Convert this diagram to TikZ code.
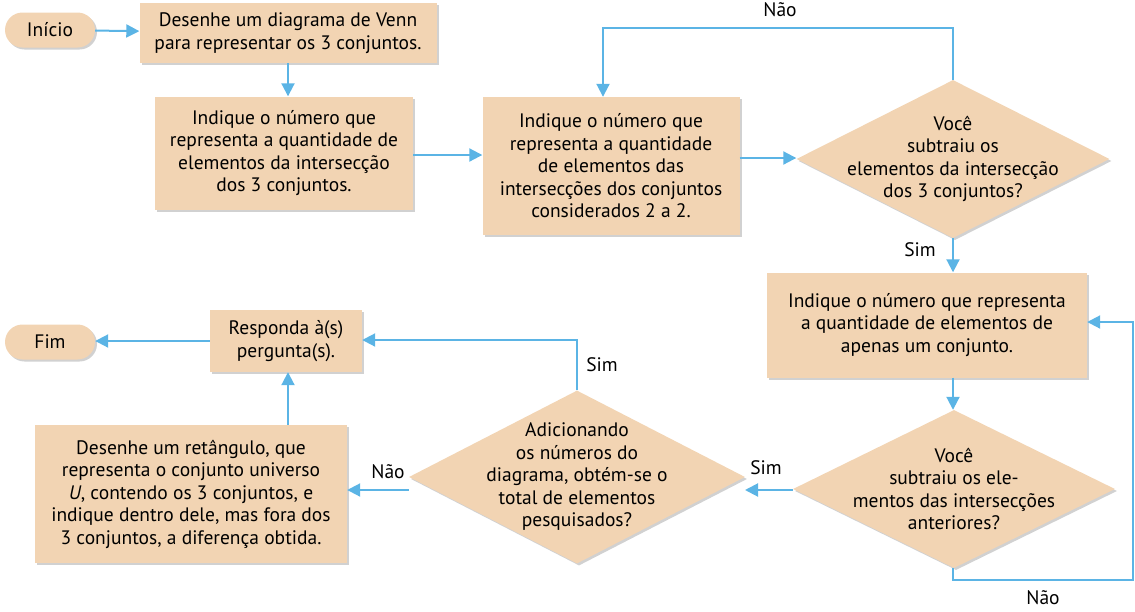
\documentclass[tikz,border=0pt]{standalone}
\usepackage{fontspec}
\setmainfont{PT Sans}
\usetikzlibrary{shapes.geometric,shapes.misc,shadows,arrows.meta}
\definecolor{boxfill}{HTML}{F2D4B3}
\definecolor{arr}{HTML}{5BB4E5}
\tikzset{
 base/.style={fill=boxfill,draw=none,drop shadow={shadow xshift=2pt,shadow yshift=-2pt,fill=black!30,opacity=0.6},font=\fontsize{19.5}{22.5}\selectfont,align=center,inner sep=0pt},
 box/.style={base,rectangle},
 term/.style={base,rounded rectangle},
 dia/.style={base,diamond,aspect=2,inner xsep=-35pt,inner ysep=-10pt},
 conn/.style={draw=arr,line width=2pt,-{Triangle[length=13pt,width=13pt]}},
 lbl/.style={font=\fontsize{19.5}{22}\selectfont}
}
\begin{document}
\begin{tikzpicture}[x=1pt,y=-1pt]
\useasboundingbox (0,0) rectangle (1135,611);
\node[term,minimum width=90pt,minimum height=35pt] (ini) at (50,30) {Início};
\node[box,minimum width=297pt,minimum height=60pt] (venn) at (288,33) {Desenhe um diagrama de Venn\\para representar os 3 conjuntos.};
\node[box,minimum width=258pt,minimum height=113pt] (b2) at (284,153) {Indique o número que\\representa a quantidade de\\elementos da intersecção\\dos 3 conjuntos.};
\node[box,minimum width=257pt,minimum height=138pt] (b3) at (611,166) {Indique o número que\\representa a quantidade\\de elementos das\\intersecções dos conjuntos\\considerados 2 a 2.};
\node[dia,minimum width=313pt,minimum height=158pt] (d1) at (953,159) {Você\\subtraiu os\\elementos da intersecção\\dos 3 conjuntos?};
\node[box,minimum width=320pt,minimum height=105pt] (b4) at (927,325) {Indique o número que representa\\a quantidade de elementos de\\apenas um conjunto.};
\node[dia,minimum width=322pt,minimum height=158pt] (d2) at (954,489) {Você\\subtraiu os ele-\\mentos das intersecções\\anteriores?};
\node[dia,minimum width=336pt,minimum height=173pt] (d3) at (577,477) {Adicionando\\os números do\\diagrama, obtém-se o\\total de elementos\\pesquisados?};
\node[box,minimum width=312pt,minimum height=138pt] (b5) at (191,494) {Desenhe um retângulo, que\\representa o conjunto universo\\\textit{U}, contendo os 3 conjuntos, e\\indique dentro dele, mas fora dos\\3 conjuntos, a diferença obtida.};
\node[box,minimum width=152pt,minimum height=62pt] (resp) at (286,341) {Responda à(s)\\pergunta(s).};
\node[term,minimum width=90pt,minimum height=35pt] (fim) at (50,342) {Fim};
\draw[conn] (ini) -- (venn);
\draw[conn] (venn.south -| 288,0) -- (b2.north -| 288,0);
\draw[conn] (b2.east |- 0,155) -- (b3.west |- 0,155);
\draw[conn] (b3.east |- 0,158) -- (d1.west |- 0,158);
\draw[conn] (d1.north) |- (603,28) -- (b3.north -| 603,0);
\node[lbl] (n1) at (780,10) {Não};
\draw[conn] (d1.south) -- (b4.north -| d1.south);
\node[lbl] (s1) at (920,250) {Sim};
\draw[conn] (b4.south -| 953,0) -- (d2.north -| 953,0);
\draw[conn] (d2.south -| 953,0) |- (1133,580) |- (b4.east |- 0,322);
\node[lbl] (n2) at (1043,598) {Não};
\draw[conn] (d2.west |- 0,490) -- (745,490);
\node[lbl] (s2) at (766,468) {Sim};
\draw[conn] (d3.north) |- (resp.east |- 0,340);
\node[lbl] (s3) at (602,365) {Sim};
\draw[conn] (d3.west |- 0,490) -- (b5.east |- 0,490);
\node[lbl] (n3) at (388,472) {Não};
\draw[conn] (b5.north -| 288,0) -- (resp.south -| 288,0);
\draw[conn] (resp.west |- 0,341) -- (fim.east |- 0,341);
\end{tikzpicture}
\end{document}
